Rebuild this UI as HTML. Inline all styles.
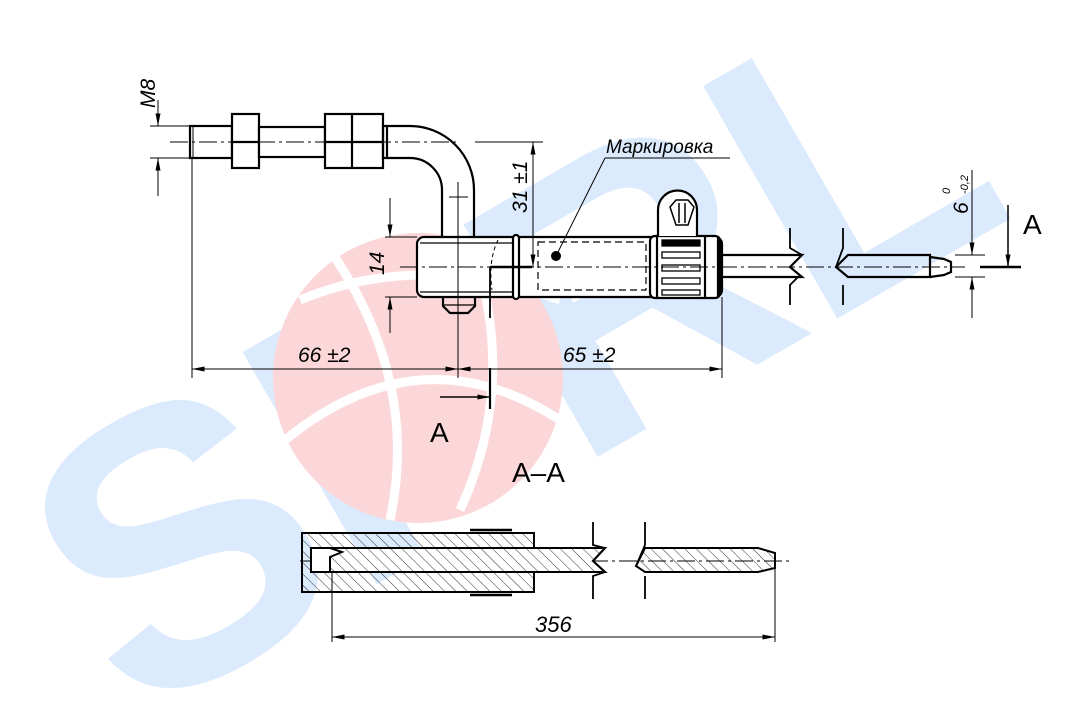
<!DOCTYPE html>
<html><head><meta charset="utf-8"><style>
html,body{margin:0;padding:0;background:#fff;width:1080px;height:720px;overflow:hidden;}
#w{position:relative;width:1080px;height:720px;overflow:hidden;contain:paint;}
svg{display:block;overflow:hidden;}
.t{font-family:"Liberation Sans",sans-serif;font-style:italic;fill:#000;}
.u{font-family:"Liberation Sans",sans-serif;fill:#000;}
</style></head><body><div id="w">
<svg width="1080" height="720" viewBox="0 0 1080 720" xmlns="http://www.w3.org/2000/svg">
<defs>
<clipPath id="c"><rect width="1080" height="720"/></clipPath>
<pattern id="h" width="8" height="8" patternUnits="userSpaceOnUse" patternTransform="rotate(-45)">
<line x1="0" y1="0" x2="0" y2="8" stroke="#000" stroke-width="0.8"/>
</pattern>
<marker id="a" viewBox="0 0 10 4" refX="10" refY="2" markerWidth="14" markerHeight="5" markerUnits="userSpaceOnUse" orient="auto-start-reverse">
<path d="M0,0 L10,2 L0,4z" fill="#000"/>
</marker>
</defs>
<g clip-path="url(#c)">
<g fill="#dbeafc" font-family="Liberation Sans,sans-serif" font-weight="bold" font-size="390">
<text x="575" y="470" text-anchor="middle" transform="rotate(-30 575 470)" letter-spacing="-5">SPRL</text>
</g>
</g>
<circle cx="418" cy="378" r="145" fill="#fcd7d9"/>
<g fill="none" stroke="#fff" stroke-width="9">
<path d="M300,300 Q420,250 560,300"/>
<path d="M285,440 Q420,330 560,420"/>
<path d="M330,250 Q420,380 390,520"/>
<path d="M470,240 Q520,380 460,510"/>
</g>
<g stroke="#000" fill="none">
<g stroke-width="2.2">
<rect x="190" y="126" width="42" height="32" fill="#fff"/>
<rect x="232" y="114" width="27" height="54" fill="#fff"/>
<line x1="232" y1="142" x2="259" y2="142"/>
<rect x="259" y="127" width="66" height="30" fill="#fff"/>
<rect x="325" y="114" width="58" height="54" fill="#fff"/>
<line x1="352" y1="114" x2="352" y2="168"/>
<line x1="325" y1="142" x2="383" y2="142"/>
<rect x="383" y="126" width="4" height="32"/>
<path d="M387,126 L410,126 A64,64 0 0 1 474,190 L474,237 M387,158 L410,158 A32,32 0 0 1 442,190 L442,237"/>
<line x1="193" y1="127" x2="193" y2="157" stroke-width="1"/>
</g>
<g stroke-width="2.2">
<rect x="417" y="237" width="305" height="60" rx="7" fill="#fff"/>
<rect x="513" y="235" width="6" height="64" rx="3" fill="#fff"/>
<path d="M443,297 L443,306 L450,313 L468,313 L475,306 L475,297"/>
<line x1="443" y1="305" x2="475" y2="305" stroke-width="1.2"/>
<path d="M490,267 L490,318" stroke-width="1.8"/>
<line x1="490" y1="267" x2="532" y2="267" stroke-width="2.5"/>
<rect x="650" y="236" width="70" height="62" rx="5" fill="#fff"/>
<line x1="657" y1="236" x2="657" y2="298"/>
<line x1="705" y1="236" x2="705" y2="298"/>
<line x1="718" y1="236" x2="718" y2="298"/>
<path d="M658,236 L658,210 A19,19 0 0 1 697,210 L697,236" fill="#fff"/>
<path d="M670,207 L676,200 L688,200 L694,207 L688,225 L676,225z" stroke-width="1.5"/>
<line x1="679" y1="203" x2="679" y2="223" stroke-width="1.5"/>
<line x1="685" y1="203" x2="685" y2="223" stroke-width="1.5"/>
</g>
<g stroke-width="1.3">
<rect x="662" y="240" width="38" height="6" fill="#000"/>
<rect x="662" y="252" width="38" height="6"/>
<rect x="662" y="265" width="38" height="6"/>
<rect x="662" y="278" width="38" height="6"/>
<rect x="662" y="290" width="38" height="5"/>
</g>
<path d="M498,240 Q488,260 492,290" stroke-width="1" stroke-dasharray="4,3"/>
<rect x="538" y="242" width="108" height="48" stroke-width="1.2" stroke-dasharray="7,4"/>
<line x1="420" y1="243" x2="512" y2="243" stroke-width="1.2"/>
<line x1="420" y1="292" x2="512" y2="292" stroke-width="1.2"/>
<g stroke-width="2.2">
<path d="M722,255 L802,255 L790,267 L802,277 L722,277"/>
<path d="M848,255 L930,255 L930,277 L848,277 L836,267z"/>
<path d="M930,257 L944,259 L951,262 L951,272 L944,275 L930,277"/>
<path d="M790,228 L790,248 L802,255 M790,305 L790,285 L798,277" stroke-width="1.8"/>
<path d="M843,228 L843,248 L836,267 M843,305 L843,285" stroke-width="1.8"/>
</g>
<g stroke-width="1" stroke-dasharray="18,4,3,4">
<line x1="170" y1="142" x2="460" y2="142"/>
<line x1="400" y1="267" x2="965" y2="267"/>
<line x1="300" y1="561" x2="790" y2="561"/>
</g>
<line x1="458" y1="182" x2="458" y2="378" stroke-width="1"/>
<line x1="449" y1="197" x2="468" y2="197" stroke-width="1"/>
<g stroke-width="1">
<line x1="150" y1="126" x2="190" y2="126"/><line x1="150" y1="158" x2="190" y2="158"/>
<line x1="158" y1="100" x2="158" y2="126" marker-end="url(#a)"/>
<line x1="158" y1="196" x2="158" y2="158" marker-end="url(#a)"/>
<line x1="475" y1="142" x2="543" y2="142"/>
<line x1="533" y1="142" x2="533" y2="267" marker-start="url(#a)" marker-end="url(#a)"/>
<line x1="385" y1="237" x2="417" y2="237"/><line x1="385" y1="297" x2="417" y2="297"/>
<line x1="390" y1="198" x2="390" y2="237" marker-end="url(#a)"/>
<line x1="390" y1="333" x2="390" y2="297" marker-end="url(#a)"/>
<line x1="192" y1="158" x2="192" y2="378"/>
<line x1="722" y1="297" x2="722" y2="378"/>
<line x1="192" y1="369" x2="458" y2="369" marker-start="url(#a)" marker-end="url(#a)"/>
<line x1="458" y1="369" x2="722" y2="369" marker-start="url(#a)" marker-end="url(#a)"/>
<line x1="955" y1="255" x2="985" y2="255"/><line x1="955" y1="277" x2="985" y2="277"/>
<line x1="972" y1="170" x2="972" y2="255" marker-end="url(#a)"/>
<line x1="972" y1="318" x2="972" y2="277" marker-end="url(#a)"/>
<line x1="556" y1="256" x2="605" y2="158"/><line x1="605" y1="158" x2="730" y2="158"/>
<line x1="332" y1="572" x2="332" y2="642"/><line x1="775" y1="555" x2="775" y2="642"/>
<line x1="332" y1="637" x2="775" y2="637" marker-start="url(#a)" marker-end="url(#a)"/>
</g>
<line x1="490" y1="368" x2="490" y2="409" stroke-width="2.2"/>
<line x1="440" y1="397" x2="490" y2="397" stroke-width="1.5" marker-end="url(#a)"/>
<line x1="1008" y1="205" x2="1008" y2="267" stroke-width="1.5" marker-end="url(#a)"/>
<line x1="980" y1="267" x2="1021" y2="267" stroke-width="2.5"/>
<g stroke-width="2">
<path d="M302,533 L534,533 L534,592 L302,592z" fill="url(#h)"/>
<path d="M311,548 L605,548 L593,561 L605,572 L311,572z" fill="#fff"/>
<path d="M330,548 L605,548 L593,561 L605,572 L330,572 L330,557 L342,552z" fill="url(#h)"/>
<path d="M645,548 L758,548 L775,553 L775,568 L758,572 L645,572 L636,566z" fill="url(#h)"/>
<path d="M470,530 L512,530 M470,595 L512,595" stroke-width="2.5"/>
<path d="M593,522 L593,545 L605,548 M593,599 L593,576 L605,572" stroke-width="1.8"/>
<path d="M645,522 L645,545 L636,566 M645,599 L645,576" stroke-width="1.8"/>
</g>
</g>
<circle cx="556" cy="256" r="5" fill="#000"/>
<text class="t" font-size="21" transform="translate(155,108) rotate(-90)">M8</text>
<text class="t" font-size="21" transform="translate(527,213) rotate(-90)">31 ±1</text>
<text class="t" font-size="21" transform="translate(384,275) rotate(-90)">14</text>
<text class="t" font-size="19" x="606" y="153">Маркировка</text>
<text class="t" font-size="21" x="298" y="362">66 ±2</text>
<text class="t" font-size="21" x="563" y="362">65 ±2</text>
<text class="t" font-size="21" transform="translate(968,214) rotate(-90)">6</text>
<text class="t" font-size="11" transform="translate(950,194) rotate(-90)">0</text>
<text class="t" font-size="11" transform="translate(968,194) rotate(-90)">-0,2</text>
<text class="u" font-size="28" x="1023" y="234">A</text>
<text class="u" font-size="28" x="430" y="442">A</text>
<text class="u" font-size="28" x="512" y="482">A–A</text>
<text class="t" font-size="22" x="535" y="632">356</text>
</svg>
</div></body></html>
